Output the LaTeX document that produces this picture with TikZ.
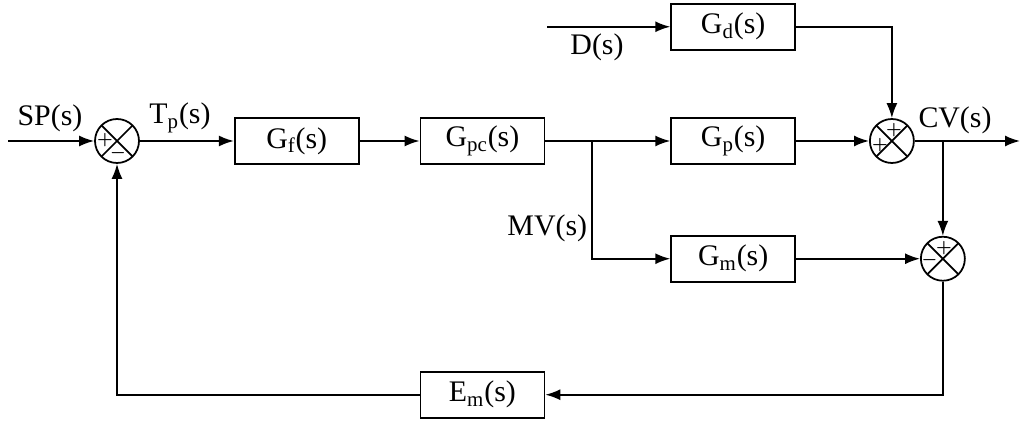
\documentclass[tikz,border=0pt]{standalone}
\usepackage{fontspec}
\setmainfont{Liberation Serif}
\usetikzlibrary{positioning,arrows.meta}

\begin{document}
\begin{tikzpicture}[
        x=0.02cm, y=-0.02cm,
        line width=1pt,
        blk/.style  = {rectangle, draw, minimum width=2.48cm, minimum height=0.92cm, inner sep=0pt,
                       font=\fontsize{17}{20}\selectfont},
        sumj/.style = {circle, draw, minimum size=8.8mm, inner sep=0pt,
                       path picture={\draw (path picture bounding box.north west) -- (path picture bounding box.south east)
                                           (path picture bounding box.north east) -- (path picture bounding box.south west);}},
        sgn/.style  = {inner sep=0pt, font=\normalsize\boldmath},
        sig/.style  = {inner sep=0pt, font=\fontsize{17}{20}\selectfont},
        >={Latex[length=3mm, width=2.2mm]}
    ]
        \useasboundingbox (0,0) rectangle (1024,421);

        % blocks and summing junctions
        \node[sumj]                      (s1) at (117,141) {};
        \node[blk, right=1.88cm of s1]   (Gf)  {G\textsubscript{f}(s)};
        \node[blk, right=1.2cm of Gf]    (Gpc) {G\textsubscript{pc}(s)};
        \node[blk, right=2.5cm of Gpc]   (Gp)  {G\textsubscript{p}(s)};
        \node[blk, above=1.33cm of Gp]   (Gd)  {G\textsubscript{d}(s)};
        \node[blk, below=1.4cm of Gp]    (Gm)  {G\textsubscript{m}(s)};
        \node[sumj, right=1.46cm of Gp]  (s2) {};
        \node[sumj, right=2.48cm of Gm]  (s3) {};
        \node[blk, below=4.12cm of Gpc]  (Em)  {E\textsubscript{m}(s)};

        % free ends and branch points
        \coordinate (in)  at (8,141);
        \coordinate (out) at (1020,141);
        \coordinate (br)  at (592,141);
        \coordinate[left=2.46cm of Gd] (din);
        \coordinate (cv)  at (s2 -| s3);

        % signs
        \node[sgn] (p1) at ([shift={(-0.24cm,0.01cm)}]s1)  {$+$};
        \node[sgn] (m1) at ([shift={(0.02cm,-0.25cm)}]s1)  {$-$};
        \node[sgn] (p2) at ([shift={(0.04cm,0.21cm)}]s2)   {$+$};
        \node[sgn] (p3) at ([shift={(-0.24cm,-0.08cm)}]s2) {$+$};
        \node[sgn] (p4) at ([shift={(0.02cm,0.22cm)}]s3)   {$+$};
        \node[sgn] (m4) at ([shift={(-0.27cm,-0.03cm)}]s3) {$-$};

        % signal names
        \node[sig] (sp)  at (50,118)  {SP(s)};
        \node[sig] (tp)  at (180,118) {T\textsubscript{p}(s)};
        \node[sig] (dl)  at (597,47)  {D(s)};
        \node[sig] (cvl) at (955,120) {CV(s)};
        \node[sig, anchor=east] (mv) at (588,228) {MV(s)};

        % connectors
        \draw[->] (in)  -- (s1);
        \draw[->] (s1)  -- (Gf);
        \draw[->] (Gf)  -- (Gpc);
        \draw[->] (Gpc) -- (Gp);
        \draw[->] (br)  |- (Gm);
        \draw[->] (din) -- (Gd);
        \draw[->] (Gd)  -| (s2);
        \draw[->] (Gp)  -- (s2);
        \draw[->] (s2)  -- (out);
        \draw[->] (cv)  -- (s3);
        \draw[->] (Gm)  -- (s3);
        \draw[->] (s3)  |- (Em);
        \draw[->] (Em)  -| (s1);
    \end{tikzpicture}
\end{document}
